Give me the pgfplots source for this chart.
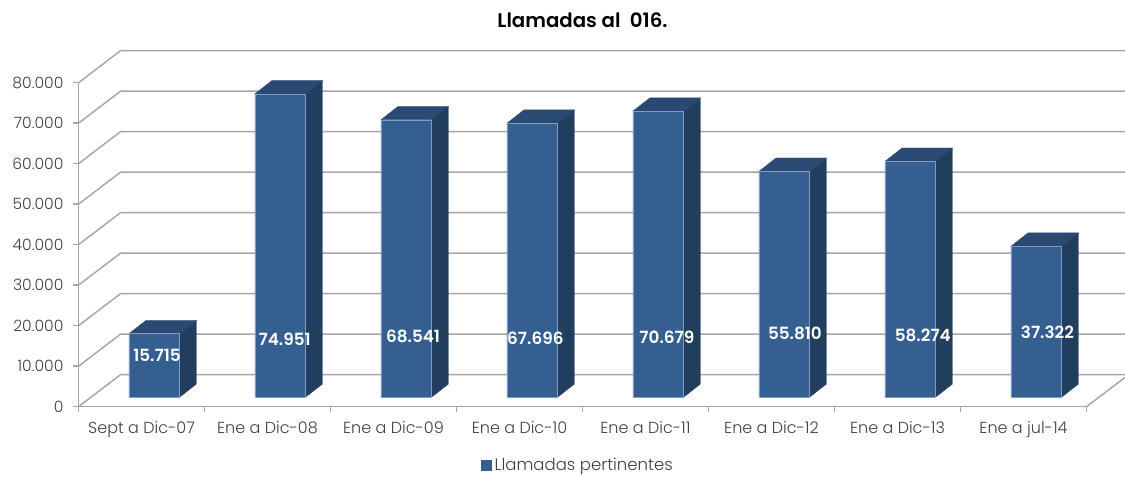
\documentclass[border=0pt]{standalone}
\usepackage{fontspec}
\setmainfont{Poppins Light}[BoldFont={Poppins SemiBold}]
\usepackage{pgfplots}
\pgfplotsset{compat=1.18}
\definecolor{barfront}{HTML}{365F91}
\definecolor{barside}{HTML}{223E5F}
\definecolor{bartop}{HTML}{2A4973}
\definecolor{baredge}{HTML}{7F9CC4}
\definecolor{wall}{HTML}{A6A6A6}
\definecolor{txt}{HTML}{404040}
% 1 px of the reference = 0.75pt; axes 1008 x 324 px
\pgfplotsset{
  common/.style={
    scale only axis, width=756pt, height=243pt,
    xmin=-0.5, xmax=7.5, ymin=0, ymax=80000, clip=false,
  },
}
% side and top face of one bar: index, value
\newcommand\barfaces[2]{%
  \pgfmathsetmacro\xa{#1+0.2004}%
  \pgfmathsetmacro\xb{\xa+0.1349}%
  \pgfmathsetmacro\xc{\xa-0.4008}%
  \pgfmathsetmacro\xd{\xb-0.4008}%
  \edef\yt{\the\numexpr#2+3284\relax}%
  \edef\tmp{\noexpand\addplot[fill=barside, draw=barside, line width=0.2pt, forget plot]
    coordinates {(\xa,#2) (\xb,\yt) (\xb,3284) (\xa,0)} -- cycle;
    \noexpand\addplot[fill=bartop, draw=bartop, line width=0.2pt, forget plot]
    coordinates {(\xc,#2) (\xa,#2) (\xb,\yt) (\xd,\yt)} -- cycle;}%
  \tmp}
\begin{document}
\begin{tikzpicture}
\begin{axis}[
  common,
  axis x line=bottom, axis y line=left,
  axis line style={wall, line width=1.1pt, -},
  ytick={0,10000,...,80000},
  xtick={0,...,7},
  xticklabels={Sept a Dic-07, Ene a Dic-08, Ene a Dic-09, Ene a Dic-10, Ene a Dic-11, Ene a Dic-12, Ene a Dic-13, Ene a jul-14},
  minor xtick={-0.5,0.5,...,7.5},
  tick align=outside,
  major tick length=3.75pt, minor tick length=3.75pt,
  tick style={wall, line width=1.1pt},
  major x tick style={draw=none},
  scaled y ticks=false,
  /pgf/number format/.cd, assume math mode=true, 1000 sep={.}, /pgfplots/.cd,
  yticklabel style={font=\fontsize{11.7}{13}\selectfont, text=txt, xshift=-4pt},
  xticklabel style={font=\fontsize{12}{14}\selectfont, text=txt, yshift=-4pt},
  title={\textbf{Llamadas al\ \ 016.}},
  title style={font=\fontsize{14.8}{16}\selectfont, at={(axis description cs:0.5,1)}, anchor=center, yshift=41pt, text=black},
  legend style={at={(axis description cs:0.496,-0.18)}, anchor=center, draw=none, fill=none,
    font=\fontsize{12.4}{14}\selectfont, text=txt, inner sep=0pt},
]
  % walls: front corner, back corner, right end of the picture
  \addplot[wall, line width=1.1pt, forget plot] coordinates {(-0.5,0) (-0.1667,7901) (7.806,7901)};
  \addplot[wall, line width=1.1pt, forget plot] coordinates {(-0.5,10000) (-0.1667,17901) (7.806,17901)};
  \addplot[wall, line width=1.1pt, forget plot] coordinates {(-0.5,20000) (-0.1667,27901) (7.806,27901)};
  \addplot[wall, line width=1.1pt, forget plot] coordinates {(-0.5,30000) (-0.1667,37901) (7.806,37901)};
  \addplot[wall, line width=1.1pt, forget plot] coordinates {(-0.5,40000) (-0.1667,47901) (7.806,47901)};
  \addplot[wall, line width=1.1pt, forget plot] coordinates {(-0.5,50000) (-0.1667,57901) (7.806,57901)};
  \addplot[wall, line width=1.1pt, forget plot] coordinates {(-0.5,60000) (-0.1667,67901) (7.806,67901)};
  \addplot[wall, line width=1.1pt, forget plot] coordinates {(-0.5,70000) (-0.1667,77901) (7.806,77901)};
  \addplot[wall, line width=1.1pt, forget plot] coordinates {(-0.5,80000) (-0.1667,87901) (7.806,87901)};
  \addplot[wall, line width=1.1pt, forget plot] coordinates {(7.5,0) (7.806,7234)};
  \addlegendimage{legend image code/.code={\fill[barfront] (12pt,-3.75pt) rectangle (19.5pt,3.75pt);}}
  \addlegendentry{Llamadas pertinentes}
\end{axis}
\begin{axis}[
  common, at={(9.56pt,7.05pt)}, hide axis,
]
  \barfaces{0}{15715}
  \barfaces{1}{74951}
  \barfaces{2}{68541}
  \barfaces{3}{67696}
  \barfaces{4}{70679}
  \barfaces{5}{55810}
  \barfaces{6}{58274}
  \barfaces{7}{37322}
  \addplot[ybar, bar width=37.9pt, bar shift=0pt, fill=barfront, draw=baredge, line width=0.3pt, forget plot]
    coordinates {(0,15715) (1,74951) (2,68541) (3,67696) (4,70679) (5,55810) (6,58274) (7,37322)};
  \addplot[only marks, mark=none, point meta=explicit symbolic, nodes near coords,
    nodes near coords style={anchor=center, text=white, font=\fontsize{12.6}{14}\selectfont\bfseries}, forget plot]
    table[meta=label] {
      x      y      label
      0.022  10272  15.715
      1.035  14321  74.951
      2.054  15136  68.541
      3.025  14642  67.696
      4.069  14889  70.679
      5.085  15877  55.810
      6.100  15383  58.274
      7.089  15951  37.322
    };
\end{axis}
\pgfresetboundingbox
\path[use as bounding box] (-58.875pt,-51.975pt) rectangle (784.875pt,305.025pt);
\end{tikzpicture}
\end{document}
